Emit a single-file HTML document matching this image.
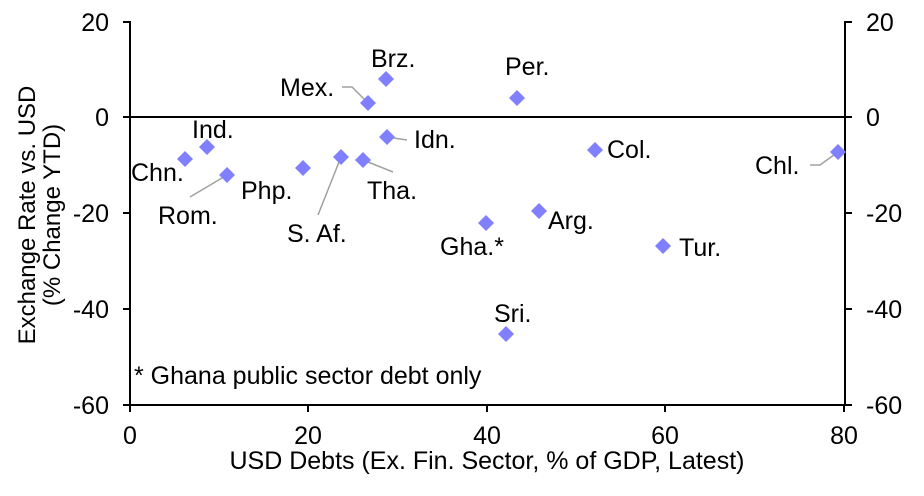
<!DOCTYPE html>
<html><head><style>body{margin:0;background:#fff}svg{display:block}text{font-family:"Liberation Sans",Arial,sans-serif;fill:#000}</style></head><body>
<svg width="924" height="496" xmlns="http://www.w3.org/2000/svg">
<g stroke="#000" stroke-width="2" fill="none">
<line x1="130" y1="21" x2="130" y2="406"/>
<line x1="845" y1="21" x2="845" y2="406"/>
<line x1="129" y1="405" x2="846" y2="405"/>
<line x1="130" y1="117" x2="845" y2="117"/>
<line x1="123" y1="22" x2="130" y2="22"/><line x1="123" y1="117" x2="130" y2="117"/><line x1="123" y1="213" x2="130" y2="213"/><line x1="123" y1="309" x2="130" y2="309"/><line x1="123" y1="405" x2="130" y2="405"/>
<line x1="845" y1="22" x2="852" y2="22"/><line x1="845" y1="117" x2="852" y2="117"/><line x1="845" y1="213" x2="852" y2="213"/><line x1="845" y1="309" x2="852" y2="309"/><line x1="845" y1="405" x2="852" y2="405"/>
<line x1="130" y1="405" x2="130" y2="412"/><line x1="308" y1="405" x2="308" y2="412"/><line x1="487" y1="405" x2="487" y2="412"/><line x1="665" y1="405" x2="665" y2="412"/><line x1="844" y1="405" x2="844" y2="412"/>
</g>
<g font-size="25" text-anchor="end">
<text x="109" y="31">20</text><text x="109" y="126">0</text><text x="109" y="222">-20</text><text x="109" y="318">-40</text><text x="109" y="414">-60</text>
</g>
<g font-size="25">
<text x="866" y="31">20</text><text x="866" y="126">0</text><text x="866" y="222">-20</text><text x="866" y="318">-40</text><text x="866" y="414">-60</text>
</g>
<g font-size="25" text-anchor="middle">
<text x="130" y="444">0</text><text x="308" y="444">20</text><text x="487" y="444">40</text><text x="665" y="444">60</text><text x="844" y="444">80</text>
<text x="487" y="469">USD Debts (Ex. Fin. Sector, % of GDP, Latest)</text>
</g>
<g font-size="24" text-anchor="middle">
<text transform="translate(35,215) rotate(-90)">Exchange Rate vs. USD</text>
<text transform="translate(60,215) rotate(-90)">(% Change YTD)</text>
</g>
<g stroke="#a0a0a0" stroke-width="1.5" fill="none">
<polyline points="342,87 352,87 368,103"/>
<polyline points="190,197 227,175"/>
<polyline points="318,215 341,157"/>
<polyline points="363,160 393,172"/>
<polyline points="387,137 407,140"/>
<polyline points="810,165 820,165 838,152"/>
</g>
<g fill="#8080ff">
<path d="M185,151l8,8l-8,8l-8,-8z"/><path d="M207,139l8,8l-8,8l-8,-8z"/><path d="M227,167l8,8l-8,8l-8,-8z"/>
<path d="M341,149l8,8l-8,8l-8,-8z"/><path d="M303,160l8,8l-8,8l-8,-8z"/><path d="M363,152l8,8l-8,8l-8,-8z"/>
<path d="M368,95l8,8l-8,8l-8,-8z"/><path d="M386,71l8,8l-8,8l-8,-8z"/><path d="M387,129l8,8l-8,8l-8,-8z"/>
<path d="M517,90l8,8l-8,8l-8,-8z"/><path d="M486,215l8,8l-8,8l-8,-8z"/><path d="M539,203l8,8l-8,8l-8,-8z"/>
<path d="M506,326l8,8l-8,8l-8,-8z"/><path d="M595,142l8,8l-8,8l-8,-8z"/><path d="M663,238l8,8l-8,8l-8,-8z"/><path d="M838,144l8,8l-8,8l-8,-8z"/>
</g>
<g font-size="25">
<text x="131" y="181">Chn.</text><text x="192" y="138">Ind.</text><text x="158" y="224">Rom.</text>
<text x="241" y="199">Php.</text><text x="287" y="242">S. Af.</text><text x="367" y="199">Tha.</text>
<text x="280" y="96">Mex.</text><text x="371" y="67">Brz.</text><text x="414" y="148">Idn.</text>
<text x="505" y="75">Per.</text><text x="440" y="255">Gha.*</text><text x="548" y="229">Arg.</text>
<text x="494" y="322">Sri.</text><text x="607" y="158">Col.</text><text x="679" y="256">Tur.</text><text x="755" y="174">Chl.</text>
<text x="134" y="384">* Ghana public sector debt only</text>
</g>
</svg>
</body></html>
